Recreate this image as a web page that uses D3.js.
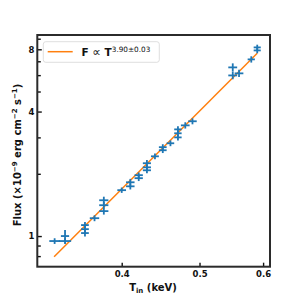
<!DOCTYPE html>
<head>
    <meta charset="utf-8">
    <style> body { margin: 0; background: #fff; } </style>
    <script src="https://cdn.jsdelivr.net/npm/d3@7"></script>
</head>
<body>
    <div id="chart"></div>
    <script>

        // disc temperature (keV) and flux (x1e-9 erg/cm2/s)
        var tin = [0.33, 0.34, 0.34, 0.36, 0.36, 0.36, 0.37, 0.38, 0.38, 0.38, 0.40,
                   0.41, 0.41, 0.42, 0.42, 0.43, 0.43, 0.43, 0.44, 0.45, 0.45, 0.46,
                   0.47, 0.47, 0.47, 0.48, 0.49, 0.55, 0.55, 0.56, 0.58, 0.59, 0.59];
        var tinErr = [0.005, 0.004, 0.006, 0.004, 0.004, 0.004, 0.005, 0.005, 0.005, 0.005, 0.005,
                      0.005, 0.005, 0.005, 0.005, 0.005, 0.005, 0.005, 0.005, 0.005, 0.005, 0.005,
                      0.005, 0.005, 0.005, 0.006, 0.006, 0.007, 0.007, 0.007, 0.006, 0.006, 0.006];
        var flux = [0.946, 1.00, 0.946, 1.13, 1.08, 1.034, 1.22, 1.49, 1.41, 1.32, 1.667,
                    1.82, 1.74, 1.97, 1.905, 2.25, 2.15, 2.08, 2.43, 2.60, 2.69, 2.81,
                    3.00, 3.28, 3.14, 3.43, 3.59, 6.54, 5.98, 6.12, 7.15, 8.17, 7.90];
        var fluxErr = [0.03, 0.07, 0.03, 0.04, 0.04, 0.04, 0.04, 0.06, 0.05, 0.05, 0.05,
                       0.07, 0.06, 0.06, 0.06, 0.08, 0.07, 0.07, 0.08, 0.08, 0.09, 0.09,
                       0.10, 0.12, 0.11, 0.12, 0.12, 0.30, 0.25, 0.25, 0.25, 0.25, 0.25];

        // power-law fit end points, F ~ T^3.90
        var fitT = [0.3295, 0.590];
        var fitF = [0.794, 7.65];

        var xTicks = [0.4, 0.5, 0.6];
        var yTicks = [0.8, 0.9, 1, 2, 3, 4, 5, 6, 7, 8, 9];
        var yLabelled = [1, 4, 8];

        var W = 300, H = 300;
        var margin = {top: 35, bottom: 33.3, left: 37.3, right: 30};

        var svg = d3.select("#chart").append("svg")
            .attr("width", W)
            .attr("height", H)
            .style("font-family", "'DejaVu Sans', sans-serif");

        var x = d3.scaleLog()
            .domain([0.314, 0.612])
            .range([margin.left, W - margin.right]);

        var y = d3.scaleLog()
            .domain([0.711, 9.38])
            .range([H - margin.bottom, margin.top]);

        var blue = "#1f77b4", orange = "#ff7f0e";

        // fit line
        svg.append("path")
            .datum(fitT.map((t, i) => [t, fitF[i]]))
            .attr("fill", "none")
            .attr("stroke", orange)
            .attr("stroke-width", 1.5)
            .attr("d", d3.line().x(d => x(d[0])).y(d => y(d[1])));

        // error bars
        var pts = svg.append("g")
            .attr("stroke", blue)
            .attr("stroke-width", 1.8);

        tin.forEach(function(t, i) {
            pts.append("line")
                .attr("x1", x(t - tinErr[i])).attr("x2", x(t + tinErr[i]))
                .attr("y1", y(flux[i])).attr("y2", y(flux[i]));
            pts.append("line")
                .attr("x1", x(t)).attr("x2", x(t))
                .attr("y1", y(flux[i] - fluxErr[i])).attr("y2", y(flux[i] + fluxErr[i]));
        });

        // axes, ticks pointing inward
        var xAxis = svg.append("g")
            .attr("transform", "translate(0," + (H - margin.bottom) + ")")
            .call(d3.axisBottom(x).tickValues(xTicks).tickSize(-4).tickPadding(4)
                .tickFormat(d3.format(".1f")));

        var yAxis = svg.append("g")
            .attr("transform", "translate(" + margin.left + ",0)")
            .call(d3.axisLeft(y).tickValues(yTicks).tickSize(-4).tickPadding(3)
                .tickFormat(d => yLabelled.includes(d) ? d : ""));

        yAxis.selectAll(".tick line")
            .attr("x2", d => yLabelled.includes(d) ? 4.5 : 3.5);

        [xAxis, yAxis].forEach(function(a) {
            a.select(".domain").remove();
            a.selectAll(".tick line").attr("stroke", "#111").attr("stroke-width", 1.4);
            a.selectAll("text")
                .attr("fill", "#111")
                .style("font-family", "'DejaVu Sans', sans-serif")
                .style("font-weight", "bold")
                .style("font-size", "8.5px");
        });

        // frame
        svg.append("rect")
            .attr("x", margin.left)
            .attr("y", margin.top)
            .attr("width", W - margin.left - margin.right)
            .attr("height", H - margin.top - margin.bottom)
            .attr("fill", "none")
            .attr("stroke", "#2b2b2b")
            .attr("stroke-width", 2);

        // legend
        var leg = svg.append("g");
        leg.append("rect")
            .attr("x", 43.3).attr("y", 41.7)
            .attr("width", 116).attr("height", 20.6)
            .attr("rx", 2.5)
            .attr("fill", "#fff")
            .attr("stroke", "#d6d6d6")
            .attr("stroke-width", 0.8);
        leg.append("line")
            .attr("x1", 47.7).attr("x2", 72.7)
            .attr("y1", 51.7).attr("y2", 51.7)
            .attr("stroke", orange)
            .attr("stroke-width", 1.5);
        var lt = leg.append("text")
            .attr("x", 81.5).attr("y", 55.5)
            .attr("fill", "#111")
            .style("font-size", "10.5px");
        lt.append("tspan").style("font-weight", "bold").text("F ");
        lt.append("tspan").style("font-size", "12px").text("\u221d");
        lt.append("tspan").style("font-weight", "bold").text(" T");
        lt.append("tspan").attr("dy", -4).style("font-size", "7.3px").text("3.90\u00b10.03");

        // axis labels
        var xl = svg.append("text")
            .attr("x", 153).attr("y", 291)
            .attr("text-anchor", "middle")
            .attr("fill", "#111")
            .style("font-size", "10px")
            .style("font-weight", "bold");
        xl.append("tspan").text("T");
        xl.append("tspan").attr("dy", 2).style("font-size", "7px").text("in");
        xl.append("tspan").attr("dy", -2).text(" (keV)");

        var yl = svg.append("text")
            .attr("transform", "translate(21,155) rotate(-90)")
            .attr("text-anchor", "middle")
            .attr("fill", "#111")
            .style("font-size", "10px")
            .style("font-weight", "bold");
        yl.append("tspan").text("Flux (\u00d710");
        yl.append("tspan").attr("dy", -4).style("font-size", "7px").text("\u22129");
        yl.append("tspan").attr("dy", 4).text(" erg cm");
        yl.append("tspan").attr("dy", -4).style("font-size", "7px").text("\u22122");
        yl.append("tspan").attr("dy", 4).text(" s");
        yl.append("tspan").attr("dy", -4).style("font-size", "7px").text("\u22121");
        yl.append("tspan").attr("dy", 4).text(")");

    </script>
</body>
